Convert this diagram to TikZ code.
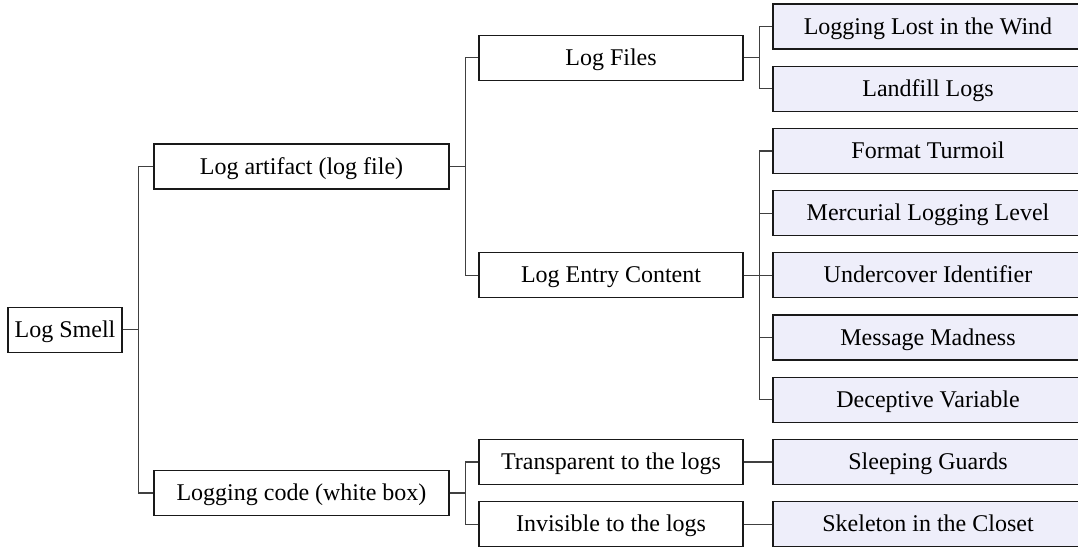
\documentclass[tikz,border=0pt]{standalone}
\usepackage{fontspec}
\setmainfont{Liberation Serif}
\usepackage{tikz}
\definecolor{leaffill}{RGB}{238,238,250}
\tikzset{
	smellbox/.style={draw=black!90, line width=0.6pt, inner sep=0pt, minimum height=22.5pt, text height=7.6pt, text depth=0pt, font=\fontsize{12}{14}\selectfont},
	rootbox/.style={smellbox, minimum width=57pt},
	groupbox/.style={smellbox, minimum width=147.5pt},
	kindbox/.style={smellbox, minimum width=132pt},
	leafbox/.style={smellbox, fill=leaffill, minimum width=155pt},
	link/.style={draw=black!75, line width=0.6pt}
}

\begin{document}
\begin{tikzpicture}[x=0.5pt, y=-0.5pt]
			%%%%% START %%%%%
			
			\useasboundingbox (0, 0) rectangle (1078, 547);
			
			\node[rootbox] (smell) at (65, 329.7) {Log Smell};
			
			\node[groupbox] (artifact) at (301.5, 166.5) {Log artifact (log file)};
			\node[groupbox] (code) at (301.5, 493) {Logging code (white box)};
			
			\node[kindbox] (files) at (611, 57.6) {Log Files};
			\node[kindbox] (entry) at (611, 275.3) {Log Entry Content};
			\node[kindbox] (transp) at (611, 461.9) {Transparent to the logs};
			\node[kindbox] (invis) at (611, 524.1) {Invisible to the logs};
			
			\node[leafbox] (wind) at (928, 26.5) {Logging Lost in the Wind};
			\node[leafbox] (landfill) at (928, 88.7) {Landfill Logs};
			\node[leafbox] (turmoil) at (928, 150.9) {Format Turmoil};
			\node[leafbox] (mercurial) at (928, 213.1) {Mercurial Logging Level};
			\node[leafbox] (undercover) at (928, 275.3) {Undercover Identifier};
			\node[leafbox] (madness) at (928, 337.5) {Message Madness};
			\node[leafbox] (deceptive) at (928, 399.7) {Deceptive Variable};
			\node[leafbox] (guards) at (928, 461.9) {Sleeping Guards};
			\node[leafbox] (skeleton) at (928, 524.1) {Skeleton in the Closet};
			
			% elbow links
			\foreach \from/\to in {smell/artifact, smell/code, artifact/files, artifact/entry, code/transp, code/invis, files/wind, files/landfill, entry/turmoil, entry/mercurial, entry/undercover, entry/madness, entry/deceptive}
				\draw[link] (\from.east) -- ++(16, 0) |- (\to.west);
			
			\draw[link] (transp) -- (guards);
			\draw[link] (invis) -- (skeleton);
			
			%%%%% END %%%%%
\end{tikzpicture}
\end{document}
